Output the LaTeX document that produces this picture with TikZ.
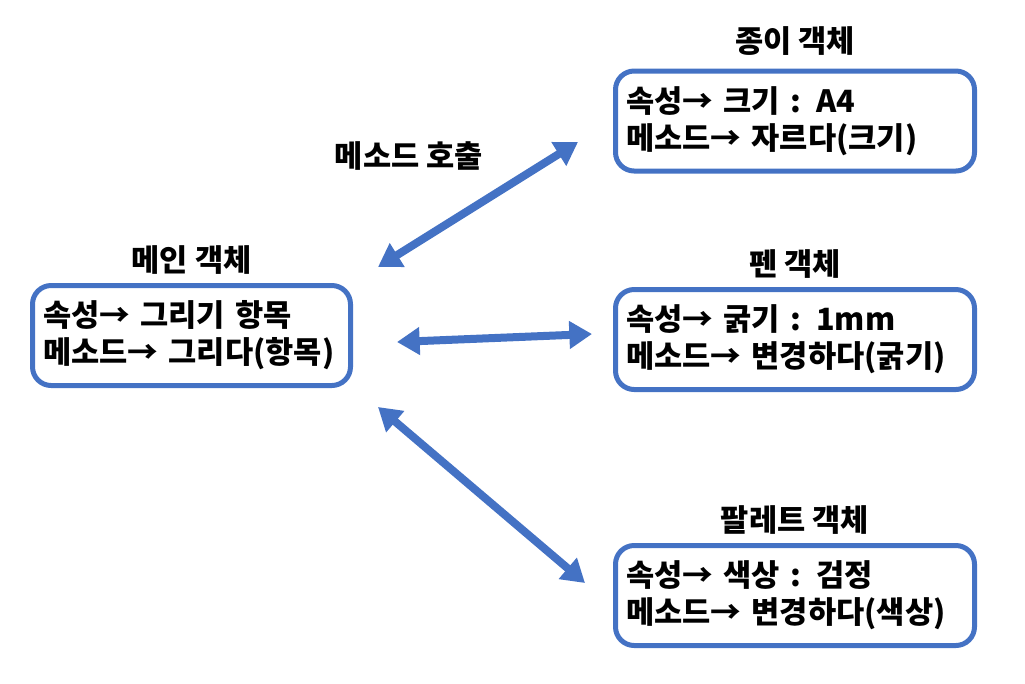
\documentclass[tikz,border=0pt]{standalone}
\usepackage{fontspec}
\setmainfont{Noto Sans CJK KR}
\usepackage{tikz}
\usetikzlibrary{positioning,arrows.meta}
\definecolor{boxblue}{RGB}{68,114,196}
\tikzset{
  objbox/.style={draw=boxblue, line width=3.75pt, rounded corners=14pt, minimum height=75pt,
                 inner xsep=8pt, text width=#1, align=left,
                 font=\bfseries\fontsize{23}{27.75}\selectfont},
  objtitle/.style={font=\bfseries\fontsize{23}{26}\selectfont},
  call/.style={{Triangle[length=17pt,width=20pt]}-{Triangle[length=17pt,width=20pt]},
               draw=boxblue, line width=6pt},
}

\begin{document}
\begin{tikzpicture}[x=0.75pt,y=-0.75pt]
\useasboundingbox (0,0) rectangle (1025,683);
%Nodes
\node[objbox=222.5pt] (main) at (191.5,335.5) {속성→ 그리기 항목\\메소드→ 그리다(항목)};
\node[objbox=253.25pt] (paper) at (795,121) {속성→ 크기 : A4\\메소드→ 자르다(크기)};
\node[objbox=253.25pt] (pen) at (795,339.5) {속성→ 굵기 : 1mm\\메소드→ 변경하다(굵기)};
\node[objbox=253.25pt] (palette) at (795,595.5) {속성→ 색상 : 검정\\메소드→ 변경하다(색상)};

\node[objtitle] (maintitle) [above=3pt of main] {메인 객체};
\node[objtitle] (papertitle) [above=6pt of paper] {종이 객체};
\node[objtitle] (pentitle) [above=3pt of pen] {펜 객체};
\node[objtitle] (palettetitle) [above=3pt of palette] {팔레트 객체};
\node[objtitle] (calllabel) at (409,156) {메소드 호출};

%Arrow ends
\coordinate (paperA) at (378,267);
\coordinate (paperB) at (578,142);
\coordinate (penA) at (397,342);
\coordinate (penB) at (592,334);
\coordinate (paletteA) at (378,407);
\coordinate (paletteB) at (585,583);

%Lines
\draw[call] (paperA) -- (paperB);
\draw[call] (penA) -- (penB);
\draw[call] (paletteA) -- (paletteB);
\end{tikzpicture}
\end{document}
